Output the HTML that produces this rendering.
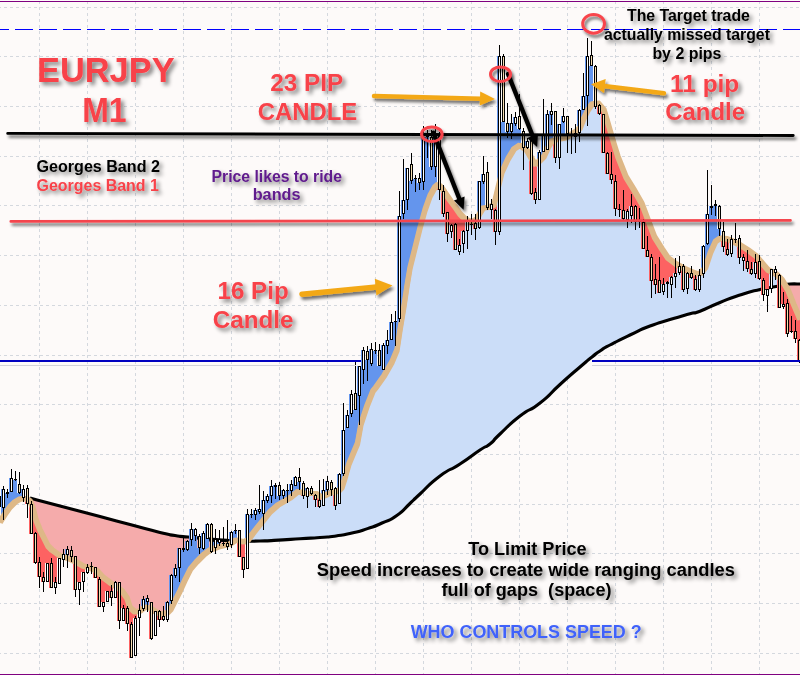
<!DOCTYPE html>
<html lang="en"><head><meta charset="utf-8"><title>EURJPY M1</title>
<style>
html,body{margin:0;padding:0;background:#fdfaf9;}
body{width:800px;height:675px;overflow:hidden;font-family:"Liberation Sans",Arial,sans-serif;}
svg{display:block;}
</style></head>
<body>
<svg width="800" height="675" viewBox="0 0 800 675">
<g stroke="#d4d8de" stroke-width="1" stroke-dasharray="3 3" fill="none" shape-rendering="crispEdges">
<path d="M0 7.5 H800" stroke-dashoffset="2"/>
<path d="M0 56.5 H800" stroke-dashoffset="2"/>
<path d="M0 106.5 H800" stroke-dashoffset="2"/>
<path d="M0 156.5 H800" stroke-dashoffset="2"/>
<path d="M0 205.5 H800" stroke-dashoffset="2"/>
<path d="M0 255.5 H800" stroke-dashoffset="2"/>
<path d="M0 305.5 H800" stroke-dashoffset="2"/>
<path d="M0 355.5 H800" stroke-dashoffset="2"/>
<path d="M0 404.5 H800" stroke-dashoffset="2"/>
<path d="M0 454.5 H800" stroke-dashoffset="2"/>
<path d="M0 504.5 H800" stroke-dashoffset="2"/>
<path d="M0 553.5 H800" stroke-dashoffset="2"/>
<path d="M0 603.5 H800" stroke-dashoffset="2"/>
<path d="M0 653.5 H800" stroke-dashoffset="2"/>
<path d="M39.5 0 V675" stroke-dashoffset="5"/>
<path d="M87.5 0 V675" stroke-dashoffset="5"/>
<path d="M135.5 0 V675" stroke-dashoffset="5"/>
<path d="M183.5 0 V675" stroke-dashoffset="5"/>
<path d="M231.5 0 V675" stroke-dashoffset="5"/>
<path d="M279.5 0 V675" stroke-dashoffset="5"/>
<path d="M327.5 0 V675" stroke-dashoffset="5"/>
<path d="M375.5 0 V675" stroke-dashoffset="5"/>
<path d="M423.5 0 V675" stroke-dashoffset="5"/>
<path d="M471.5 0 V675" stroke-dashoffset="5"/>
<path d="M519.5 0 V675" stroke-dashoffset="5"/>
<path d="M567.5 0 V675" stroke-dashoffset="5"/>
<path d="M615.5 0 V675" stroke-dashoffset="5"/>
<path d="M663.5 0 V675" stroke-dashoffset="5"/>
<path d="M711.5 0 V675" stroke-dashoffset="5"/>
<path d="M759.5 0 V675" stroke-dashoffset="5"/>
</g>
<defs>
<clipPath id="c1"><rect x="0" y="0" width="237" height="675"/></clipPath>
<clipPath id="c2"><rect x="237" y="0" width="548.5" height="675"/></clipPath>
<clipPath id="c3"><rect x="785.5" y="0" width="20" height="675"/></clipPath>
<filter id="sh" filterUnits="userSpaceOnUse" x="0" y="0" width="800" height="675"><feGaussianBlur in="SourceAlpha" stdDeviation="1.6"/><feOffset dx="2" dy="2.5"/><feComponentTransfer><feFuncA type="linear" slope="0.55"/></feComponentTransfer><feMerge><feMergeNode/><feMergeNode in="SourceGraphic"/></feMerge></filter>
<filter id="sh2" filterUnits="userSpaceOnUse" x="0" y="0" width="800" height="675"><feGaussianBlur in="SourceAlpha" stdDeviation="1.6"/><feOffset dx="2" dy="2.5"/><feComponentTransfer><feFuncA type="linear" slope="0.55"/></feComponentTransfer><feMerge><feMergeNode/><feMergeNode in="SourceGraphic"/></feMerge></filter>
<filter id="ts" filterUnits="userSpaceOnUse" x="0" y="0" width="800" height="675"><feGaussianBlur in="SourceAlpha" stdDeviation="2"/><feOffset dx="2.5" dy="3"/><feComponentTransfer><feFuncA type="linear" slope="0.5"/></feComponentTransfer><feMerge><feMergeNode/><feMergeNode in="SourceGraphic"/></feMerge></filter>
</defs>
<polygon points="30,501 33,508 36,520 40,530 44,538 48,546 52,550 60,555.7 70,559 77.8,562.8 83,566 90,568 97.3,571 102.6,577 109.7,582.3 116,586.5 122,591 127,598 130,607.5 135,612 140,611 145,607 150,608 156,612 162,614.5 167,613 171,609 175,601 180,591 185,580 190.5,569 196.5,562 204,554.5 210,550 218,547 230,544 236,540 244,542 248,540 254,532 262,522 270,512 278,505 290,498 298,491.5 306,493.5 316,493.5 320.8,497 325,495.5 329,493.3 335,492 339,490.5 342,487.4 345.7,475.5 349,463.7 354,451.8 357.5,443.5 361,424 367,406 373,391 375.5,388 384,376 392,362 397,350 400,330 404,306 407,286 410,268 414,252 420,228 425,210 430,196 435,187 438,184.5 441.5,187.5 446.5,195 451,201.5 455.5,207.5 460,214 463.5,217.5 468,220.5 473,221.5 477,219 480,213 483,208 488,207.5 494,205 498,188 502,172 508,159 514,149 520,145.2 527,150.5 533,161 535.5,164.3 539,161.5 544,156.5 548.6,146.5 552,141 557,139.4 566,137.7 573.5,133 578,130 580,128 584,118 588,110 592,104 598,103 604,110 607,120 610.5,132 614,144 618,157 626,177 634,190 642,204 648,220 654.5,237 662,249 668,258 676,264 684,268.5 692,272 697.5,274 701,273 705.5,267.5 710.5,252.5 715.5,241.5 720.5,238 726,238.5 732,241 740,245 748,250 756,256 762,263 768,270 776,274 782,280 788,290 794,305 800,319 800,284 790,284 784,285 776,286.6 760,289.4 740,295 720,302.5 700,311.2 690,313.8 670,319.6 650,326 630,335 610,345 600,351 592,357 580,367 560,384.5 540,403 520,416 500,434 490,444 480,450 460,464 440,476 420,494 410,503.5 396.8,515.5 382,523 367.5,528.6 352,533 336,536 320,537.5 300,538.8 274,540.4 260,541 240,541 216,539.5 188,537 175,535.5 160,532.4 130,524.5 100,516.5 60,506 30,498" fill="#f5abab" clip-path="url(#c1)"/>
<polygon points="30,501 33,508 36,520 40,530 44,538 48,546 52,550 60,555.7 70,559 77.8,562.8 83,566 90,568 97.3,571 102.6,577 109.7,582.3 116,586.5 122,591 127,598 130,607.5 135,612 140,611 145,607 150,608 156,612 162,614.5 167,613 171,609 175,601 180,591 185,580 190.5,569 196.5,562 204,554.5 210,550 218,547 230,544 236,540 244,542 248,540 254,532 262,522 270,512 278,505 290,498 298,491.5 306,493.5 316,493.5 320.8,497 325,495.5 329,493.3 335,492 339,490.5 342,487.4 345.7,475.5 349,463.7 354,451.8 357.5,443.5 361,424 367,406 373,391 375.5,388 384,376 392,362 397,350 400,330 404,306 407,286 410,268 414,252 420,228 425,210 430,196 435,187 438,184.5 441.5,187.5 446.5,195 451,201.5 455.5,207.5 460,214 463.5,217.5 468,220.5 473,221.5 477,219 480,213 483,208 488,207.5 494,205 498,188 502,172 508,159 514,149 520,145.2 527,150.5 533,161 535.5,164.3 539,161.5 544,156.5 548.6,146.5 552,141 557,139.4 566,137.7 573.5,133 578,130 580,128 584,118 588,110 592,104 598,103 604,110 607,120 610.5,132 614,144 618,157 626,177 634,190 642,204 648,220 654.5,237 662,249 668,258 676,264 684,268.5 692,272 697.5,274 701,273 705.5,267.5 710.5,252.5 715.5,241.5 720.5,238 726,238.5 732,241 740,245 748,250 756,256 762,263 768,270 776,274 782,280 788,290 794,305 800,319 800,284 790,284 784,285 776,286.6 760,289.4 740,295 720,302.5 700,311.2 690,313.8 670,319.6 650,326 630,335 610,345 600,351 592,357 580,367 560,384.5 540,403 520,416 500,434 490,444 480,450 460,464 440,476 420,494 410,503.5 396.8,515.5 382,523 367.5,528.6 352,533 336,536 320,537.5 300,538.8 274,540.4 260,541 240,541 216,539.5 188,537 175,535.5 160,532.4 130,524.5 100,516.5 60,506 30,498" fill="#cbddf8" clip-path="url(#c2)"/>
<polygon points="30,501 33,508 36,520 40,530 44,538 48,546 52,550 60,555.7 70,559 77.8,562.8 83,566 90,568 97.3,571 102.6,577 109.7,582.3 116,586.5 122,591 127,598 130,607.5 135,612 140,611 145,607 150,608 156,612 162,614.5 167,613 171,609 175,601 180,591 185,580 190.5,569 196.5,562 204,554.5 210,550 218,547 230,544 236,540 244,542 248,540 254,532 262,522 270,512 278,505 290,498 298,491.5 306,493.5 316,493.5 320.8,497 325,495.5 329,493.3 335,492 339,490.5 342,487.4 345.7,475.5 349,463.7 354,451.8 357.5,443.5 361,424 367,406 373,391 375.5,388 384,376 392,362 397,350 400,330 404,306 407,286 410,268 414,252 420,228 425,210 430,196 435,187 438,184.5 441.5,187.5 446.5,195 451,201.5 455.5,207.5 460,214 463.5,217.5 468,220.5 473,221.5 477,219 480,213 483,208 488,207.5 494,205 498,188 502,172 508,159 514,149 520,145.2 527,150.5 533,161 535.5,164.3 539,161.5 544,156.5 548.6,146.5 552,141 557,139.4 566,137.7 573.5,133 578,130 580,128 584,118 588,110 592,104 598,103 604,110 607,120 610.5,132 614,144 618,157 626,177 634,190 642,204 648,220 654.5,237 662,249 668,258 676,264 684,268.5 692,272 697.5,274 701,273 705.5,267.5 710.5,252.5 715.5,241.5 720.5,238 726,238.5 732,241 740,245 748,250 756,256 762,263 768,270 776,274 782,280 788,290 794,305 800,319 800,284 790,284 784,285 776,286.6 760,289.4 740,295 720,302.5 700,311.2 690,313.8 670,319.6 650,326 630,335 610,345 600,351 592,357 580,367 560,384.5 540,403 520,416 500,434 490,444 480,450 460,464 440,476 420,494 410,503.5 396.8,515.5 382,523 367.5,528.6 352,533 336,536 320,537.5 300,538.8 274,540.4 260,541 240,541 216,539.5 188,537 175,535.5 160,532.4 130,524.5 100,516.5 60,506 30,498" fill="#f5abab" clip-path="url(#c3)"/>
<path d="M30 498 C40 500.7 36.7 499.8 60 506 C83.3 512.2 76.7 510.3 100 516.5 C123.3 522.7 110 519.2 130 524.5 C150 529.8 145 528.7 160 532.4 C175 536.1 165.7 534 175 535.5 C184.3 537 174.3 535.7 188 537 C201.7 538.3 198.7 538.2 216 539.5 C233.3 540.8 225.3 540.5 240 541 C254.7 541.5 248.7 541.2 260 541 C271.3 540.8 260.7 541.1 274 540.4 C287.3 539.7 284.7 539.8 300 538.8 C315.3 537.8 308 538.4 320 537.5 C332 536.6 325.3 537.5 336 536 C346.7 534.5 341.5 535.5 352 533 C362.5 530.5 357.5 531.9 367.5 528.6 C377.5 525.3 372.2 527.4 382 523 C391.8 518.6 387.5 522 396.8 515.5 C406.1 509 402.3 510.7 410 503.5 C417.7 496.3 410 503.2 420 494 C430 484.8 426.7 486 440 476 C453.3 466 446.7 472.7 460 464 C473.3 455.3 470 456.7 480 450 C490 443.3 483.3 449.3 490 444 C496.7 438.7 490 443.3 500 434 C510 424.7 506.7 426.3 520 416 C533.3 405.7 526.7 413.5 540 403 C553.3 392.5 546.7 396.5 560 384.5 C573.3 372.5 569.3 376.2 580 367 C590.7 357.8 585.3 362.3 592 357 C598.7 351.7 594 355 600 351 C606 347 600 350.3 610 345 C620 339.7 616.7 341.3 630 335 C643.3 328.7 636.7 331.1 650 326 C663.3 320.9 656.7 323.7 670 319.6 C683.3 315.5 680 316.6 690 313.8 C700 311 690 315 700 311.2 C710 307.4 706.7 307.9 720 302.5 C733.3 297.1 726.7 299.4 740 295 C753.3 290.6 748 292.2 760 289.4 C772 286.6 768 288.1 776 286.6 C784 285.1 779.3 285.9 784 285 C788.7 284.1 784.7 284.3 790 284 C795.3 283.7 796.7 284 800 284" fill="none" stroke="#000" stroke-width="3.1" stroke-linejoin="round"/>
<g shape-rendering="crispEdges">
<rect x="1" y="489" width="4" height="27.6" fill="#6495ed"/>
<rect x="5" y="492.5" width="4" height="18.1" fill="#6495ed"/>
<rect x="9" y="478" width="4" height="27.6" fill="#6495ed"/>
<rect x="13" y="480" width="4" height="21.8" fill="#6495ed"/>
<rect x="17" y="493" width="4" height="6.4" fill="#6495ed"/>
<rect x="21" y="489" width="4" height="9.6" fill="#6495ed"/>
<rect x="25" y="499.3" width="4" height="4.7" fill="#fd6262"/>
<rect x="29" y="504.3" width="4" height="29.3" fill="#fd6262"/>
<rect x="33" y="517.6" width="4" height="45.4" fill="#fd6262"/>
<rect x="37" y="528.5" width="4" height="48.5" fill="#fd6262"/>
<rect x="41" y="536.8" width="4" height="45.6" fill="#fd6262"/>
<rect x="45" y="544.8" width="4" height="18.2" fill="#fd6262"/>
<rect x="49" y="549.4" width="4" height="38.2" fill="#fd6262"/>
<rect x="53" y="552.4" width="4" height="29.6" fill="#fd6262"/>
<rect x="57" y="555.3" width="4" height="3.1" fill="#fd6262"/>
<rect x="61" y="554" width="4" height="2.8" fill="#6495ed"/>
<rect x="65" y="549" width="4" height="9.1" fill="#6495ed"/>
<rect x="69" y="557" width="4" height="2.7" fill="#6495ed"/>
<rect x="73" y="561.6" width="4" height="28" fill="#fd6262"/>
<rect x="77" y="563.8" width="4" height="18.2" fill="#fd6262"/>
<rect x="81" y="566.1" width="4" height="5.9" fill="#fd6262"/>
<rect x="89" y="567" width="4" height="1.6" fill="#6495ed"/>
<rect x="93" y="570.2" width="4" height="8.2" fill="#fd6262"/>
<rect x="97" y="573.4" width="4" height="33.2" fill="#fd6262"/>
<rect x="101" y="577.6" width="4" height="24.4" fill="#fd6262"/>
<rect x="105" y="580.6" width="4" height="10.4" fill="#fd6262"/>
<rect x="109" y="583.4" width="4" height="14.6" fill="#fd6262"/>
<rect x="113" y="582" width="4" height="4.1" fill="#6495ed"/>
<rect x="117" y="589" width="4" height="32" fill="#fd6262"/>
<rect x="121" y="593" width="4" height="15" fill="#fd6262"/>
<rect x="125" y="599.3" width="4" height="24.2" fill="#fd6262"/>
<rect x="129" y="608.8" width="4" height="48.7" fill="#fd6262"/>
<rect x="133" y="611.9" width="4" height="6.1" fill="#fd6262"/>
<rect x="137" y="610" width="4" height="1.1" fill="#6495ed"/>
<rect x="141" y="599" width="4" height="9.3" fill="#6495ed"/>
<rect x="145" y="597.5" width="4" height="10" fill="#6495ed"/>
<rect x="149" y="608.9" width="4" height="29.9" fill="#fd6262"/>
<rect x="157" y="613.4" width="4" height="6.6" fill="#fd6262"/>
<rect x="161" y="614.1" width="4" height="5.9" fill="#fd6262"/>
<rect x="165" y="602" width="4" height="10.6" fill="#6495ed"/>
<rect x="169" y="575" width="4" height="33.2" fill="#6495ed"/>
<rect x="173" y="568" width="4" height="32.2" fill="#6495ed"/>
<rect x="177" y="548.4" width="4" height="43.8" fill="#6495ed"/>
<rect x="181" y="549.5" width="4" height="34" fill="#6495ed"/>
<rect x="185" y="541" width="4" height="34.2" fill="#6495ed"/>
<rect x="189" y="529" width="4" height="39" fill="#6495ed"/>
<rect x="193" y="529" width="4" height="34.3" fill="#6495ed"/>
<rect x="197" y="548" width="4" height="11.1" fill="#6495ed"/>
<rect x="201" y="533" width="4" height="22.1" fill="#6495ed"/>
<rect x="205" y="524" width="4" height="28" fill="#6495ed"/>
<rect x="209" y="549.5" width="4" height="2.5" fill="#fd6262"/>
<rect x="213" y="539" width="4" height="9" fill="#6495ed"/>
<rect x="217" y="539" width="4" height="7.6" fill="#6495ed"/>
<rect x="221" y="544.5" width="4" height="1.1" fill="#6495ed"/>
<rect x="225" y="544.6" width="4" height="2.4" fill="#fd6262"/>
<rect x="229" y="531.6" width="4" height="11.5" fill="#6495ed"/>
<rect x="233" y="530.5" width="4" height="9.9" fill="#6495ed"/>
<rect x="237" y="540.9" width="4" height="15.8" fill="#fd6262"/>
<rect x="241" y="541.9" width="4" height="27.8" fill="#fd6262"/>
<rect x="245" y="514" width="4" height="26.3" fill="#6495ed"/>
<rect x="249" y="515.4" width="4" height="20.1" fill="#6495ed"/>
<rect x="253" y="510" width="4" height="20.2" fill="#6495ed"/>
<rect x="257" y="509" width="4" height="16.2" fill="#6495ed"/>
<rect x="261" y="500" width="4" height="20.2" fill="#6495ed"/>
<rect x="265" y="495.6" width="4" height="19.6" fill="#6495ed"/>
<rect x="269" y="486" width="4" height="24.8" fill="#6495ed"/>
<rect x="273" y="485" width="4" height="22.3" fill="#6495ed"/>
<rect x="277" y="496.4" width="4" height="7.8" fill="#6495ed"/>
<rect x="281" y="490" width="4" height="11.9" fill="#6495ed"/>
<rect x="285" y="491" width="4" height="8.5" fill="#6495ed"/>
<rect x="289" y="484" width="4" height="12.9" fill="#6495ed"/>
<rect x="293" y="477" width="4" height="16.6" fill="#6495ed"/>
<rect x="297" y="482" width="4" height="9.9" fill="#6495ed"/>
<rect x="301" y="492.9" width="4" height="3.1" fill="#fd6262"/>
<rect x="305" y="488" width="4" height="5.5" fill="#6495ed"/>
<rect x="313" y="493.5" width="4" height="6.5" fill="#fd6262"/>
<rect x="317" y="496" width="4" height="10.6" fill="#fd6262"/>
<rect x="321" y="490" width="4" height="6.1" fill="#6495ed"/>
<rect x="325" y="481" width="4" height="13.2" fill="#6495ed"/>
<rect x="329" y="489.6" width="4" height="3.2" fill="#6495ed"/>
<rect x="333" y="491.9" width="4" height="13.8" fill="#fd6262"/>
<rect x="337" y="474" width="4" height="16.1" fill="#6495ed"/>
<rect x="341" y="429.6" width="4" height="53.3" fill="#6495ed"/>
<rect x="345" y="415" width="4" height="54.4" fill="#6495ed"/>
<rect x="349" y="394" width="4" height="64" fill="#6495ed"/>
<rect x="353" y="410" width="4" height="38.5" fill="#6495ed"/>
<rect x="357" y="366" width="4" height="66.9" fill="#6495ed"/>
<rect x="361" y="350.4" width="4" height="66.4" fill="#6495ed"/>
<rect x="365" y="360.4" width="4" height="44.6" fill="#6495ed"/>
<rect x="369" y="348.6" width="4" height="46.4" fill="#6495ed"/>
<rect x="373" y="350.6" width="4" height="37.5" fill="#6495ed"/>
<rect x="377" y="366" width="4" height="16.5" fill="#6495ed"/>
<rect x="381" y="345" width="4" height="31.8" fill="#6495ed"/>
<rect x="385" y="339.6" width="4" height="30.5" fill="#6495ed"/>
<rect x="389" y="321.6" width="4" height="41.5" fill="#6495ed"/>
<rect x="393" y="322" width="4" height="31.8" fill="#6495ed"/>
<rect x="397" y="215.6" width="4" height="118.4" fill="#6495ed"/>
<rect x="401" y="200" width="4" height="109.6" fill="#6495ed"/>
<rect x="405" y="168.4" width="4" height="115.2" fill="#6495ed"/>
<rect x="409" y="180.6" width="4" height="81.8" fill="#6495ed"/>
<rect x="413" y="179" width="4" height="67.4" fill="#6495ed"/>
<rect x="417" y="183" width="4" height="47.4" fill="#6495ed"/>
<rect x="421" y="137" width="4" height="78.8" fill="#6495ed"/>
<rect x="425" y="137" width="4" height="66.3" fill="#6495ed"/>
<rect x="429" y="167" width="4" height="26.5" fill="#6495ed"/>
<rect x="433" y="136" width="4" height="50.7" fill="#6495ed"/>
<rect x="437" y="185.7" width="4" height="3.9" fill="#fd6262"/>
<rect x="441" y="190.3" width="4" height="23.3" fill="#fd6262"/>
<rect x="445" y="196.3" width="4" height="37.7" fill="#fd6262"/>
<rect x="449" y="202" width="4" height="23" fill="#fd6262"/>
<rect x="453" y="207.4" width="4" height="42.2" fill="#fd6262"/>
<rect x="457" y="213.1" width="4" height="31.9" fill="#fd6262"/>
<rect x="461" y="217.4" width="4" height="13.6" fill="#fd6262"/>
<rect x="469" y="221.2" width="4" height="3.8" fill="#fd6262"/>
<rect x="473" y="220" width="4" height="9" fill="#fd6262"/>
<rect x="477" y="181" width="4" height="33.2" fill="#6495ed"/>
<rect x="481" y="173.6" width="4" height="34.4" fill="#6495ed"/>
<rect x="489" y="204" width="4" height="2.1" fill="#6495ed"/>
<rect x="493" y="199.1" width="4" height="32.5" fill="#fd6262"/>
<rect x="497" y="56" width="4" height="126.4" fill="#6495ed"/>
<rect x="501" y="122" width="4" height="47" fill="#6495ed"/>
<rect x="505" y="132" width="4" height="28.3" fill="#6495ed"/>
<rect x="509" y="123" width="4" height="30.3" fill="#6495ed"/>
<rect x="513" y="117" width="4" height="31.1" fill="#6495ed"/>
<rect x="517" y="129" width="4" height="16.6" fill="#6495ed"/>
<rect x="525" y="141" width="4" height="10.2" fill="#6495ed"/>
<rect x="529" y="158.2" width="4" height="35.4" fill="#fd6262"/>
<rect x="533" y="164.2" width="4" height="36.2" fill="#fd6262"/>
<rect x="537" y="152.4" width="4" height="8.7" fill="#6495ed"/>
<rect x="541" y="134" width="4" height="23.1" fill="#6495ed"/>
<rect x="545" y="114" width="4" height="35.1" fill="#6495ed"/>
<rect x="549" y="111" width="4" height="31" fill="#6495ed"/>
<rect x="553" y="139.9" width="4" height="18.1" fill="#fd6262"/>
<rect x="557" y="123.6" width="4" height="15.3" fill="#6495ed"/>
<rect x="561" y="115.6" width="4" height="22.6" fill="#6495ed"/>
<rect x="565" y="133.6" width="4" height="3.2" fill="#6495ed"/>
<rect x="569" y="134.3" width="4" height="1.7" fill="#fd6262"/>
<rect x="573" y="131.7" width="4" height="1.3" fill="#fd6262"/>
<rect x="577" y="110" width="4" height="18.6" fill="#6495ed"/>
<rect x="581" y="96.4" width="4" height="23.1" fill="#6495ed"/>
<rect x="585" y="56" width="4" height="55.2" fill="#6495ed"/>
<rect x="589" y="65.6" width="4" height="39.3" fill="#6495ed"/>
<rect x="593" y="103.4" width="4" height="3.2" fill="#fd6262"/>
<rect x="597" y="104.6" width="4" height="9.4" fill="#fd6262"/>
<rect x="601" y="109.3" width="4" height="43.7" fill="#fd6262"/>
<rect x="605" y="121.4" width="4" height="52.6" fill="#fd6262"/>
<rect x="609" y="135.1" width="4" height="44.9" fill="#fd6262"/>
<rect x="613" y="148.5" width="4" height="60.5" fill="#fd6262"/>
<rect x="617" y="160.5" width="4" height="49.5" fill="#fd6262"/>
<rect x="621" y="170.5" width="4" height="48.5" fill="#fd6262"/>
<rect x="625" y="179.3" width="4" height="31.7" fill="#fd6262"/>
<rect x="629" y="185.8" width="4" height="19.8" fill="#fd6262"/>
<rect x="633" y="192.4" width="4" height="30" fill="#fd6262"/>
<rect x="637" y="199.4" width="4" height="23" fill="#fd6262"/>
<rect x="641" y="207.7" width="4" height="41.7" fill="#fd6262"/>
<rect x="645" y="218.4" width="4" height="38.6" fill="#fd6262"/>
<rect x="649" y="228.9" width="4" height="52.1" fill="#fd6262"/>
<rect x="653" y="238.4" width="4" height="47" fill="#fd6262"/>
<rect x="657" y="244.8" width="4" height="47.8" fill="#fd6262"/>
<rect x="661" y="251.1" width="4" height="32.9" fill="#fd6262"/>
<rect x="665" y="257.1" width="4" height="24.9" fill="#fd6262"/>
<rect x="669" y="260.5" width="4" height="16.5" fill="#fd6262"/>
<rect x="673" y="263.5" width="4" height="9.5" fill="#fd6262"/>
<rect x="681" y="268.2" width="4" height="21.8" fill="#fd6262"/>
<rect x="685" y="270" width="4" height="3" fill="#fd6262"/>
<rect x="689" y="271.7" width="4" height="6.3" fill="#fd6262"/>
<rect x="693" y="273.2" width="4" height="16.8" fill="#fd6262"/>
<rect x="697" y="273.5" width="4" height="1.5" fill="#fd6262"/>
<rect x="701" y="245.6" width="4" height="24.5" fill="#6495ed"/>
<rect x="705" y="213.6" width="4" height="48.2" fill="#6495ed"/>
<rect x="709" y="205.6" width="4" height="44.9" fill="#6495ed"/>
<rect x="713" y="205.6" width="4" height="36.1" fill="#6495ed"/>
<rect x="717" y="229" width="4" height="9.8" fill="#6495ed"/>
<rect x="721" y="238.3" width="4" height="8.7" fill="#fd6262"/>
<rect x="725" y="239.1" width="4" height="15.9" fill="#fd6262"/>
<rect x="729" y="239" width="4" height="1.8" fill="#6495ed"/>
<rect x="733" y="240" width="4" height="2.7" fill="#6495ed"/>
<rect x="737" y="244.7" width="4" height="12.9" fill="#fd6262"/>
<rect x="741" y="247.1" width="4" height="9.9" fill="#fd6262"/>
<rect x="745" y="249.6" width="4" height="19.4" fill="#fd6262"/>
<rect x="749" y="252.5" width="4" height="21.5" fill="#fd6262"/>
<rect x="753" y="255.5" width="4" height="6.5" fill="#fd6262"/>
<rect x="757" y="260" width="4" height="19" fill="#fd6262"/>
<rect x="761" y="264.6" width="4" height="30.4" fill="#fd6262"/>
<rect x="765" y="269.3" width="4" height="20.1" fill="#fd6262"/>
<rect x="769" y="269.4" width="4" height="2.3" fill="#6495ed"/>
<rect x="773" y="269.4" width="4" height="4.3" fill="#6495ed"/>
<rect x="777" y="277.4" width="4" height="30.6" fill="#fd6262"/>
<rect x="781" y="282.3" width="4" height="21.7" fill="#fd6262"/>
<rect x="785" y="289" width="4" height="45" fill="#fd6262"/>
<rect x="789" y="298.5" width="4" height="33.5" fill="#fd6262"/>
<rect x="793" y="308.3" width="4" height="31.1" fill="#fd6262"/>
<rect x="797" y="317.6" width="4" height="44.4" fill="#fd6262"/>
</g>
<path d="M209.5 540.2 L229.5 540.6" stroke="#000" stroke-width="3" fill="none"/>
<g fill="none" stroke="#deb887" stroke-linejoin="round">
<polyline id="tn" points="0,522 5,514 10,507 15,502 20,499 24,498.5 27,499 30,501 33,508 36,520 40,530 44,538 48,546 52,550 60,555.7 70,559 77.8,562.8 83,566 90,568 97.3,571 102.6,577 109.7,582.3 116,586.5 122,591 127,598 130,607.5 135,612 140,611 145,607 150,608 156,612 162,614.5 167,613 171,609 175,601 180,591 185,580 190.5,569 196.5,562 204,554.5 210,550 218,547 230,544 236,540 244,542 248,540 254,532 262,522 270,512 278,505 290,498 298,491.5 306,493.5 316,493.5 320.8,497 325,495.5 329,493.3 335,492 339,490.5 342,487.4 345.7,475.5 349,463.7 354,451.8 357.5,443.5 361,424 367,406 373,391 375.5,388 384,376 392,362 397,350 400,330 404,306 407,286 410,268 414,252 420,228 425,210 430,196 435,187 438,184.5 441.5,187.5 446.5,195 451,201.5 455.5,207.5 460,214 463.5,217.5 468,220.5 473,221.5 477,219 480,213 483,208 488,207.5 494,205 498,188 502,172 508,159 514,149 520,145.2 527,150.5 533,161 535.5,164.3 539,161.5 544,156.5 548.6,146.5 552,141 557,139.4 566,137.7 573.5,133 578,130 580,128 584,118 588,110 592,104 598,103 604,110 607,120 610.5,132 614,144 618,157 626,177 634,190 642,204 648,220 654.5,237 662,249 668,258 676,264 684,268.5 692,272 697.5,274 701,273 705.5,267.5 710.5,252.5 715.5,241.5 720.5,238 726,238.5 732,241 740,245 748,250 756,256 762,263 768,270 776,274 782,280 788,290 794,305 800,319" stroke-width="2.6"/>
<use href="#tn" transform="translate(-1.25 -1.25)" stroke-width="1.2"/>
<use href="#tn" transform="translate(1.25 -1.25)" stroke-width="1.2"/>
<use href="#tn" transform="translate(-1.25 1.25)" stroke-width="1.2"/>
<use href="#tn" transform="translate(1.25 1.25)" stroke-width="1.2"/>
</g>
<g shape-rendering="crispEdges">
<rect x="3" y="486" width="1" height="34" fill="#000"/>
<rect x="2" y="489" width="3" height="19" fill="#000"/>
<rect x="3" y="490" width="1" height="17" fill="#fff"/>
<rect x="7" y="489" width="1" height="9" fill="#000"/>
<rect x="6" y="492" width="3" height="2" fill="#000"/>
<rect x="11" y="469" width="1" height="23" fill="#000"/>
<rect x="10" y="478" width="3" height="14" fill="#000"/>
<rect x="11" y="479" width="1" height="12" fill="#fff"/>
<rect x="15" y="471" width="1" height="10" fill="#000"/>
<rect x="14" y="479" width="3" height="1" fill="#000"/>
<rect x="19" y="472" width="1" height="22" fill="#000"/>
<rect x="18" y="484" width="3" height="9" fill="#000"/>
<rect x="19" y="485" width="1" height="7" fill="#f5deb3"/>
<rect x="23" y="485" width="1" height="17" fill="#000"/>
<rect x="22" y="489" width="3" height="9" fill="#000"/>
<rect x="23" y="490" width="1" height="7" fill="#fff"/>
<rect x="27" y="485" width="1" height="33" fill="#000"/>
<rect x="26" y="488" width="3" height="16" fill="#000"/>
<rect x="27" y="489" width="1" height="14" fill="#f5deb3"/>
<rect x="31" y="501" width="1" height="33" fill="#000"/>
<rect x="30" y="504" width="3" height="30" fill="#000"/>
<rect x="31" y="505" width="1" height="28" fill="#f5deb3"/>
<rect x="35" y="532" width="1" height="32" fill="#000"/>
<rect x="34" y="533" width="3" height="30" fill="#000"/>
<rect x="35" y="534" width="1" height="28" fill="#f5deb3"/>
<rect x="39" y="557" width="1" height="31" fill="#000"/>
<rect x="38" y="562" width="3" height="15" fill="#000"/>
<rect x="39" y="563" width="1" height="13" fill="#f5deb3"/>
<rect x="43" y="572" width="1" height="20" fill="#000"/>
<rect x="42" y="577" width="3" height="5" fill="#000"/>
<rect x="43" y="578" width="1" height="3" fill="#f5deb3"/>
<rect x="47" y="563" width="1" height="19" fill="#000"/>
<rect x="46" y="563" width="3" height="19" fill="#000"/>
<rect x="47" y="564" width="1" height="17" fill="#fff"/>
<rect x="51" y="558" width="1" height="30" fill="#000"/>
<rect x="50" y="563" width="3" height="25" fill="#000"/>
<rect x="51" y="564" width="1" height="23" fill="#f5deb3"/>
<rect x="55" y="577" width="1" height="17" fill="#000"/>
<rect x="54" y="582" width="3" height="6" fill="#000"/>
<rect x="55" y="583" width="1" height="4" fill="#fff"/>
<rect x="59" y="558" width="1" height="26" fill="#000"/>
<rect x="58" y="558" width="3" height="26" fill="#000"/>
<rect x="59" y="559" width="1" height="24" fill="#fff"/>
<rect x="63" y="549" width="1" height="18" fill="#000"/>
<rect x="62" y="554" width="3" height="6" fill="#000"/>
<rect x="63" y="555" width="1" height="4" fill="#fff"/>
<rect x="67" y="546" width="1" height="22" fill="#000"/>
<rect x="66" y="549" width="3" height="6" fill="#000"/>
<rect x="67" y="550" width="1" height="4" fill="#fff"/>
<rect x="71" y="546" width="1" height="16" fill="#000"/>
<rect x="70" y="550" width="3" height="7" fill="#000"/>
<rect x="71" y="551" width="1" height="5" fill="#f5deb3"/>
<rect x="75" y="556" width="1" height="41" fill="#000"/>
<rect x="74" y="556" width="3" height="34" fill="#000"/>
<rect x="75" y="557" width="1" height="32" fill="#f5deb3"/>
<rect x="79" y="582" width="1" height="23" fill="#000"/>
<rect x="78" y="582" width="3" height="8" fill="#000"/>
<rect x="79" y="583" width="1" height="6" fill="#fff"/>
<rect x="83" y="572" width="1" height="20" fill="#000"/>
<rect x="82" y="572" width="3" height="10" fill="#000"/>
<rect x="83" y="573" width="1" height="8" fill="#fff"/>
<rect x="87" y="564" width="1" height="10" fill="#000"/>
<rect x="86" y="567" width="3" height="6" fill="#000"/>
<rect x="87" y="568" width="1" height="4" fill="#fff"/>
<rect x="91" y="562" width="1" height="12" fill="#000"/>
<rect x="90" y="566" width="3" height="1" fill="#000"/>
<rect x="95" y="567" width="1" height="11" fill="#000"/>
<rect x="94" y="567" width="3" height="11" fill="#000"/>
<rect x="95" y="568" width="1" height="9" fill="#f5deb3"/>
<rect x="99" y="577" width="1" height="30" fill="#000"/>
<rect x="98" y="579" width="3" height="28" fill="#000"/>
<rect x="99" y="580" width="1" height="26" fill="#f5deb3"/>
<rect x="103" y="602" width="1" height="10" fill="#000"/>
<rect x="102" y="602" width="3" height="5" fill="#000"/>
<rect x="103" y="603" width="1" height="3" fill="#fff"/>
<rect x="107" y="591" width="1" height="11" fill="#000"/>
<rect x="106" y="591" width="3" height="11" fill="#000"/>
<rect x="107" y="592" width="1" height="9" fill="#fff"/>
<rect x="111" y="585" width="1" height="21" fill="#000"/>
<rect x="110" y="591" width="3" height="7" fill="#000"/>
<rect x="111" y="592" width="1" height="5" fill="#f5deb3"/>
<rect x="115" y="581" width="1" height="17" fill="#000"/>
<rect x="114" y="582" width="3" height="16" fill="#000"/>
<rect x="115" y="583" width="1" height="14" fill="#fff"/>
<rect x="119" y="582" width="1" height="47" fill="#000"/>
<rect x="118" y="582" width="3" height="39" fill="#000"/>
<rect x="119" y="583" width="1" height="37" fill="#f5deb3"/>
<rect x="123" y="605" width="1" height="16" fill="#000"/>
<rect x="122" y="608" width="3" height="13" fill="#000"/>
<rect x="123" y="609" width="1" height="11" fill="#fff"/>
<rect x="127" y="606" width="1" height="25" fill="#000"/>
<rect x="126" y="608" width="3" height="16" fill="#000"/>
<rect x="127" y="609" width="1" height="14" fill="#f5deb3"/>
<rect x="131" y="622" width="1" height="36" fill="#000"/>
<rect x="130" y="624" width="3" height="34" fill="#000"/>
<rect x="131" y="625" width="1" height="32" fill="#f5deb3"/>
<rect x="135" y="616" width="1" height="40" fill="#000"/>
<rect x="134" y="618" width="3" height="38" fill="#000"/>
<rect x="135" y="619" width="1" height="36" fill="#fff"/>
<rect x="139" y="604" width="1" height="32" fill="#000"/>
<rect x="138" y="610" width="3" height="8" fill="#000"/>
<rect x="139" y="611" width="1" height="6" fill="#fff"/>
<rect x="143" y="596" width="1" height="15" fill="#000"/>
<rect x="142" y="599" width="3" height="10" fill="#000"/>
<rect x="143" y="600" width="1" height="8" fill="#fff"/>
<rect x="147" y="595" width="1" height="17" fill="#000"/>
<rect x="146" y="598" width="3" height="4" fill="#000"/>
<rect x="147" y="599" width="1" height="2" fill="#fff"/>
<rect x="151" y="602" width="1" height="38" fill="#000"/>
<rect x="150" y="602" width="3" height="37" fill="#000"/>
<rect x="151" y="603" width="1" height="35" fill="#f5deb3"/>
<rect x="155" y="611" width="1" height="25" fill="#000"/>
<rect x="154" y="611" width="3" height="25" fill="#000"/>
<rect x="155" y="612" width="1" height="23" fill="#fff"/>
<rect x="159" y="610" width="1" height="17" fill="#000"/>
<rect x="158" y="611" width="3" height="9" fill="#000"/>
<rect x="159" y="612" width="1" height="7" fill="#f5deb3"/>
<rect x="163" y="606" width="1" height="15" fill="#000"/>
<rect x="162" y="616" width="3" height="4" fill="#000"/>
<rect x="163" y="617" width="1" height="2" fill="#f5deb3"/>
<rect x="167" y="601" width="1" height="21" fill="#000"/>
<rect x="166" y="602" width="3" height="18" fill="#000"/>
<rect x="167" y="603" width="1" height="16" fill="#fff"/>
<rect x="171" y="574" width="1" height="30" fill="#000"/>
<rect x="170" y="575" width="3" height="26" fill="#000"/>
<rect x="171" y="576" width="1" height="24" fill="#fff"/>
<rect x="175" y="564" width="1" height="14" fill="#000"/>
<rect x="174" y="568" width="3" height="8" fill="#000"/>
<rect x="175" y="569" width="1" height="6" fill="#fff"/>
<rect x="179" y="548" width="1" height="34" fill="#000"/>
<rect x="178" y="548" width="3" height="20" fill="#000"/>
<rect x="179" y="549" width="1" height="18" fill="#fff"/>
<rect x="183" y="537" width="1" height="15" fill="#000"/>
<rect x="182" y="548" width="3" height="2" fill="#000"/>
<rect x="187" y="540" width="1" height="11" fill="#000"/>
<rect x="186" y="541" width="3" height="9" fill="#000"/>
<rect x="187" y="542" width="1" height="7" fill="#fff"/>
<rect x="191" y="523" width="1" height="23" fill="#000"/>
<rect x="190" y="529" width="3" height="11" fill="#000"/>
<rect x="191" y="530" width="1" height="9" fill="#fff"/>
<rect x="195" y="528" width="1" height="13" fill="#000"/>
<rect x="194" y="529" width="3" height="7" fill="#000"/>
<rect x="195" y="530" width="1" height="5" fill="#fff"/>
<rect x="199" y="534" width="1" height="20" fill="#000"/>
<rect x="198" y="536" width="3" height="12" fill="#000"/>
<rect x="199" y="537" width="1" height="10" fill="#f5deb3"/>
<rect x="203" y="531" width="1" height="19" fill="#000"/>
<rect x="202" y="533" width="3" height="16" fill="#000"/>
<rect x="203" y="534" width="1" height="14" fill="#fff"/>
<rect x="207" y="523" width="1" height="16" fill="#000"/>
<rect x="206" y="524" width="3" height="15" fill="#000"/>
<rect x="207" y="525" width="1" height="13" fill="#fff"/>
<rect x="211" y="523" width="1" height="30" fill="#000"/>
<rect x="210" y="524" width="3" height="28" fill="#000"/>
<rect x="211" y="525" width="1" height="26" fill="#f5deb3"/>
<rect x="215" y="529" width="1" height="25" fill="#000"/>
<rect x="214" y="539" width="3" height="9" fill="#000"/>
<rect x="215" y="540" width="1" height="7" fill="#fff"/>
<rect x="219" y="530" width="1" height="16" fill="#000"/>
<rect x="218" y="539" width="3" height="4" fill="#000"/>
<rect x="219" y="540" width="1" height="2" fill="#fff"/>
<rect x="223" y="527" width="1" height="19" fill="#000"/>
<rect x="222" y="543" width="3" height="1" fill="#000"/>
<rect x="227" y="520" width="1" height="30" fill="#000"/>
<rect x="226" y="543" width="3" height="4" fill="#000"/>
<rect x="227" y="544" width="1" height="2" fill="#f5deb3"/>
<rect x="231" y="531" width="1" height="17" fill="#000"/>
<rect x="230" y="532" width="3" height="13" fill="#000"/>
<rect x="231" y="533" width="1" height="11" fill="#fff"/>
<rect x="235" y="524" width="1" height="10" fill="#000"/>
<rect x="234" y="530" width="3" height="1" fill="#000"/>
<rect x="239" y="530" width="1" height="27" fill="#000"/>
<rect x="238" y="530" width="3" height="27" fill="#000"/>
<rect x="239" y="531" width="1" height="25" fill="#f5deb3"/>
<rect x="243" y="557" width="1" height="21" fill="#000"/>
<rect x="242" y="557" width="3" height="13" fill="#000"/>
<rect x="243" y="558" width="1" height="11" fill="#f5deb3"/>
<rect x="247" y="509" width="1" height="60" fill="#000"/>
<rect x="246" y="514" width="3" height="55" fill="#000"/>
<rect x="247" y="515" width="1" height="53" fill="#fff"/>
<rect x="251" y="509" width="1" height="9" fill="#000"/>
<rect x="250" y="514" width="3" height="1" fill="#000"/>
<rect x="255" y="508" width="1" height="12" fill="#000"/>
<rect x="254" y="510" width="3" height="5" fill="#000"/>
<rect x="255" y="511" width="1" height="3" fill="#fff"/>
<rect x="259" y="485" width="1" height="29" fill="#000"/>
<rect x="258" y="509" width="3" height="3" fill="#000"/>
<rect x="259" y="510" width="1" height="1" fill="#fff"/>
<rect x="263" y="491" width="1" height="39" fill="#000"/>
<rect x="262" y="500" width="3" height="14" fill="#000"/>
<rect x="263" y="501" width="1" height="12" fill="#fff"/>
<rect x="267" y="494" width="1" height="9" fill="#000"/>
<rect x="266" y="496" width="3" height="5" fill="#000"/>
<rect x="267" y="497" width="1" height="3" fill="#fff"/>
<rect x="271" y="480" width="1" height="23" fill="#000"/>
<rect x="270" y="486" width="3" height="10" fill="#000"/>
<rect x="271" y="487" width="1" height="8" fill="#fff"/>
<rect x="275" y="483" width="1" height="16" fill="#000"/>
<rect x="274" y="485" width="3" height="2" fill="#000"/>
<rect x="279" y="482" width="1" height="18" fill="#000"/>
<rect x="278" y="485" width="3" height="11" fill="#000"/>
<rect x="279" y="486" width="1" height="9" fill="#f5deb3"/>
<rect x="283" y="489" width="1" height="10" fill="#000"/>
<rect x="282" y="490" width="3" height="6" fill="#000"/>
<rect x="283" y="491" width="1" height="4" fill="#fff"/>
<rect x="287" y="484" width="1" height="19" fill="#000"/>
<rect x="286" y="490" width="3" height="1" fill="#000"/>
<rect x="291" y="480" width="1" height="16" fill="#000"/>
<rect x="290" y="484" width="3" height="7" fill="#000"/>
<rect x="291" y="485" width="1" height="5" fill="#fff"/>
<rect x="295" y="476" width="1" height="10" fill="#000"/>
<rect x="294" y="477" width="3" height="9" fill="#000"/>
<rect x="295" y="478" width="1" height="7" fill="#fff"/>
<rect x="299" y="468" width="1" height="22" fill="#000"/>
<rect x="298" y="477" width="3" height="5" fill="#000"/>
<rect x="299" y="478" width="1" height="3" fill="#f5deb3"/>
<rect x="303" y="481" width="1" height="18" fill="#000"/>
<rect x="302" y="483" width="3" height="13" fill="#000"/>
<rect x="303" y="484" width="1" height="11" fill="#f5deb3"/>
<rect x="307" y="487" width="1" height="21" fill="#000"/>
<rect x="306" y="488" width="3" height="9" fill="#000"/>
<rect x="307" y="489" width="1" height="7" fill="#fff"/>
<rect x="311" y="486" width="1" height="9" fill="#000"/>
<rect x="310" y="488" width="3" height="6" fill="#000"/>
<rect x="311" y="489" width="1" height="4" fill="#f5deb3"/>
<rect x="315" y="494" width="1" height="13" fill="#000"/>
<rect x="314" y="495" width="3" height="5" fill="#000"/>
<rect x="315" y="496" width="1" height="3" fill="#f5deb3"/>
<rect x="319" y="480" width="1" height="28" fill="#000"/>
<rect x="318" y="500" width="3" height="7" fill="#000"/>
<rect x="319" y="501" width="1" height="5" fill="#f5deb3"/>
<rect x="323" y="479" width="1" height="27" fill="#000"/>
<rect x="322" y="490" width="3" height="16" fill="#000"/>
<rect x="323" y="491" width="1" height="14" fill="#fff"/>
<rect x="327" y="476" width="1" height="19" fill="#000"/>
<rect x="326" y="481" width="3" height="9" fill="#000"/>
<rect x="327" y="482" width="1" height="7" fill="#fff"/>
<rect x="331" y="480" width="1" height="16" fill="#000"/>
<rect x="330" y="482" width="3" height="8" fill="#000"/>
<rect x="331" y="483" width="1" height="6" fill="#f5deb3"/>
<rect x="335" y="487" width="1" height="23" fill="#000"/>
<rect x="334" y="488" width="3" height="18" fill="#000"/>
<rect x="335" y="489" width="1" height="16" fill="#f5deb3"/>
<rect x="339" y="473" width="1" height="31" fill="#000"/>
<rect x="338" y="474" width="3" height="30" fill="#000"/>
<rect x="339" y="475" width="1" height="28" fill="#fff"/>
<rect x="343" y="403" width="1" height="73" fill="#000"/>
<rect x="342" y="430" width="3" height="44" fill="#000"/>
<rect x="343" y="431" width="1" height="42" fill="#fff"/>
<rect x="347" y="410" width="1" height="18" fill="#000"/>
<rect x="346" y="415" width="3" height="13" fill="#000"/>
<rect x="347" y="416" width="1" height="11" fill="#fff"/>
<rect x="351" y="390" width="1" height="27" fill="#000"/>
<rect x="350" y="394" width="3" height="20" fill="#000"/>
<rect x="351" y="395" width="1" height="18" fill="#fff"/>
<rect x="355" y="361" width="1" height="49" fill="#000"/>
<rect x="354" y="393" width="3" height="17" fill="#000"/>
<rect x="355" y="394" width="1" height="15" fill="#f5deb3"/>
<rect x="359" y="366" width="1" height="59" fill="#000"/>
<rect x="358" y="366" width="3" height="30" fill="#000"/>
<rect x="359" y="367" width="1" height="28" fill="#fff"/>
<rect x="363" y="347" width="1" height="37" fill="#000"/>
<rect x="362" y="350" width="3" height="20" fill="#000"/>
<rect x="363" y="351" width="1" height="18" fill="#fff"/>
<rect x="367" y="346" width="1" height="35" fill="#000"/>
<rect x="366" y="351" width="3" height="9" fill="#000"/>
<rect x="367" y="352" width="1" height="7" fill="#f5deb3"/>
<rect x="371" y="343" width="1" height="23" fill="#000"/>
<rect x="370" y="349" width="3" height="15" fill="#000"/>
<rect x="371" y="350" width="1" height="13" fill="#fff"/>
<rect x="375" y="342" width="1" height="12" fill="#000"/>
<rect x="374" y="350" width="3" height="1" fill="#000"/>
<rect x="379" y="344" width="1" height="22" fill="#000"/>
<rect x="378" y="350" width="3" height="16" fill="#000"/>
<rect x="379" y="351" width="1" height="14" fill="#f5deb3"/>
<rect x="383" y="343" width="1" height="27" fill="#000"/>
<rect x="382" y="345" width="3" height="25" fill="#000"/>
<rect x="383" y="346" width="1" height="23" fill="#fff"/>
<rect x="387" y="330" width="1" height="24" fill="#000"/>
<rect x="386" y="340" width="3" height="6" fill="#000"/>
<rect x="387" y="341" width="1" height="4" fill="#fff"/>
<rect x="391" y="314" width="1" height="26" fill="#000"/>
<rect x="390" y="322" width="3" height="18" fill="#000"/>
<rect x="391" y="323" width="1" height="16" fill="#fff"/>
<rect x="395" y="311" width="1" height="35" fill="#000"/>
<rect x="394" y="321" width="3" height="1" fill="#000"/>
<rect x="399" y="191" width="1" height="131" fill="#000"/>
<rect x="398" y="216" width="3" height="103" fill="#000"/>
<rect x="399" y="217" width="1" height="101" fill="#fff"/>
<rect x="403" y="159" width="1" height="60" fill="#000"/>
<rect x="402" y="200" width="3" height="14" fill="#000"/>
<rect x="403" y="201" width="1" height="12" fill="#fff"/>
<rect x="407" y="168" width="1" height="42" fill="#000"/>
<rect x="406" y="168" width="3" height="32" fill="#000"/>
<rect x="407" y="169" width="1" height="30" fill="#fff"/>
<rect x="411" y="153" width="1" height="31" fill="#000"/>
<rect x="410" y="164" width="3" height="17" fill="#000"/>
<rect x="411" y="165" width="1" height="15" fill="#f5deb3"/>
<rect x="415" y="175" width="1" height="17" fill="#000"/>
<rect x="414" y="178" width="3" height="1" fill="#000"/>
<rect x="419" y="173" width="1" height="17" fill="#000"/>
<rect x="418" y="178" width="3" height="5" fill="#000"/>
<rect x="419" y="179" width="1" height="3" fill="#f5deb3"/>
<rect x="423" y="126" width="1" height="64" fill="#000"/>
<rect x="422" y="137" width="3" height="45" fill="#000"/>
<rect x="423" y="138" width="1" height="43" fill="#fff"/>
<rect x="427" y="130" width="1" height="28" fill="#000"/>
<rect x="426" y="136" width="3" height="1" fill="#000"/>
<rect x="431" y="130" width="1" height="40" fill="#000"/>
<rect x="430" y="137" width="3" height="30" fill="#000"/>
<rect x="431" y="138" width="1" height="28" fill="#f5deb3"/>
<rect x="435" y="124" width="1" height="53" fill="#000"/>
<rect x="434" y="136" width="3" height="31" fill="#000"/>
<rect x="435" y="137" width="1" height="29" fill="#fff"/>
<rect x="439" y="132" width="1" height="68" fill="#000"/>
<rect x="438" y="136" width="3" height="54" fill="#000"/>
<rect x="439" y="137" width="1" height="52" fill="#f5deb3"/>
<rect x="443" y="185" width="1" height="32" fill="#000"/>
<rect x="442" y="191" width="3" height="23" fill="#000"/>
<rect x="443" y="192" width="1" height="21" fill="#f5deb3"/>
<rect x="447" y="212" width="1" height="30" fill="#000"/>
<rect x="446" y="212" width="3" height="22" fill="#000"/>
<rect x="447" y="213" width="1" height="20" fill="#f5deb3"/>
<rect x="451" y="224" width="1" height="14" fill="#000"/>
<rect x="450" y="225" width="3" height="7" fill="#000"/>
<rect x="451" y="226" width="1" height="5" fill="#fff"/>
<rect x="455" y="223" width="1" height="27" fill="#000"/>
<rect x="454" y="224" width="3" height="26" fill="#000"/>
<rect x="455" y="225" width="1" height="24" fill="#f5deb3"/>
<rect x="459" y="239" width="1" height="16" fill="#000"/>
<rect x="458" y="245" width="3" height="7" fill="#000"/>
<rect x="459" y="246" width="1" height="5" fill="#fff"/>
<rect x="463" y="230" width="1" height="23" fill="#000"/>
<rect x="462" y="231" width="3" height="13" fill="#000"/>
<rect x="463" y="232" width="1" height="11" fill="#fff"/>
<rect x="467" y="216" width="1" height="33" fill="#000"/>
<rect x="466" y="220" width="3" height="11" fill="#000"/>
<rect x="467" y="221" width="1" height="9" fill="#fff"/>
<rect x="471" y="214" width="1" height="21" fill="#000"/>
<rect x="470" y="224" width="3" height="1" fill="#000"/>
<rect x="475" y="214" width="1" height="26" fill="#000"/>
<rect x="474" y="223" width="3" height="6" fill="#000"/>
<rect x="475" y="224" width="1" height="4" fill="#f5deb3"/>
<rect x="479" y="181" width="1" height="48" fill="#000"/>
<rect x="478" y="181" width="3" height="47" fill="#000"/>
<rect x="479" y="182" width="1" height="45" fill="#fff"/>
<rect x="483" y="156" width="1" height="28" fill="#000"/>
<rect x="482" y="174" width="3" height="8" fill="#000"/>
<rect x="483" y="175" width="1" height="6" fill="#fff"/>
<rect x="487" y="162" width="1" height="48" fill="#000"/>
<rect x="486" y="172" width="3" height="36" fill="#000"/>
<rect x="487" y="173" width="1" height="34" fill="#f5deb3"/>
<rect x="491" y="199" width="1" height="20" fill="#000"/>
<rect x="490" y="204" width="3" height="6" fill="#000"/>
<rect x="491" y="205" width="1" height="4" fill="#fff"/>
<rect x="495" y="209" width="1" height="36" fill="#000"/>
<rect x="494" y="210" width="3" height="22" fill="#000"/>
<rect x="495" y="211" width="1" height="20" fill="#f5deb3"/>
<rect x="499" y="45" width="1" height="190" fill="#000"/>
<rect x="498" y="56" width="3" height="176" fill="#000"/>
<rect x="499" y="57" width="1" height="174" fill="#fff"/>
<rect x="503" y="54" width="1" height="68" fill="#000"/>
<rect x="502" y="56" width="3" height="66" fill="#000"/>
<rect x="503" y="57" width="1" height="64" fill="#f5deb3"/>
<rect x="507" y="103" width="1" height="35" fill="#000"/>
<rect x="506" y="123" width="3" height="9" fill="#000"/>
<rect x="507" y="124" width="1" height="7" fill="#f5deb3"/>
<rect x="511" y="114" width="1" height="25" fill="#000"/>
<rect x="510" y="123" width="3" height="9" fill="#000"/>
<rect x="511" y="124" width="1" height="7" fill="#fff"/>
<rect x="515" y="112" width="1" height="14" fill="#000"/>
<rect x="514" y="117" width="3" height="7" fill="#000"/>
<rect x="515" y="118" width="1" height="5" fill="#fff"/>
<rect x="519" y="94" width="1" height="36" fill="#000"/>
<rect x="518" y="116" width="3" height="13" fill="#000"/>
<rect x="519" y="117" width="1" height="11" fill="#f5deb3"/>
<rect x="523" y="128" width="1" height="42" fill="#000"/>
<rect x="522" y="131" width="3" height="17" fill="#000"/>
<rect x="523" y="132" width="1" height="15" fill="#f5deb3"/>
<rect x="527" y="138" width="1" height="11" fill="#000"/>
<rect x="526" y="141" width="3" height="7" fill="#000"/>
<rect x="527" y="142" width="1" height="5" fill="#fff"/>
<rect x="531" y="139" width="1" height="56" fill="#000"/>
<rect x="530" y="140" width="3" height="54" fill="#000"/>
<rect x="531" y="141" width="1" height="52" fill="#f5deb3"/>
<rect x="535" y="188" width="1" height="16" fill="#000"/>
<rect x="534" y="192" width="3" height="8" fill="#000"/>
<rect x="535" y="193" width="1" height="6" fill="#f5deb3"/>
<rect x="539" y="150" width="1" height="50" fill="#000"/>
<rect x="538" y="152" width="3" height="48" fill="#000"/>
<rect x="539" y="153" width="1" height="46" fill="#fff"/>
<rect x="543" y="99" width="1" height="53" fill="#000"/>
<rect x="542" y="134" width="3" height="18" fill="#000"/>
<rect x="543" y="135" width="1" height="16" fill="#fff"/>
<rect x="547" y="110" width="1" height="40" fill="#000"/>
<rect x="546" y="114" width="3" height="36" fill="#000"/>
<rect x="547" y="115" width="1" height="34" fill="#fff"/>
<rect x="551" y="103" width="1" height="22" fill="#000"/>
<rect x="550" y="111" width="3" height="4" fill="#000"/>
<rect x="551" y="112" width="1" height="2" fill="#fff"/>
<rect x="555" y="111" width="1" height="52" fill="#000"/>
<rect x="554" y="111" width="3" height="47" fill="#000"/>
<rect x="555" y="112" width="1" height="45" fill="#f5deb3"/>
<rect x="559" y="124" width="1" height="45" fill="#000"/>
<rect x="558" y="124" width="3" height="34" fill="#000"/>
<rect x="559" y="125" width="1" height="32" fill="#fff"/>
<rect x="563" y="108" width="1" height="15" fill="#000"/>
<rect x="562" y="116" width="3" height="6" fill="#000"/>
<rect x="563" y="117" width="1" height="4" fill="#fff"/>
<rect x="567" y="116" width="1" height="37" fill="#000"/>
<rect x="566" y="116" width="3" height="18" fill="#000"/>
<rect x="567" y="117" width="1" height="16" fill="#f5deb3"/>
<rect x="571" y="128" width="1" height="26" fill="#000"/>
<rect x="570" y="135" width="3" height="1" fill="#000"/>
<rect x="575" y="124" width="1" height="29" fill="#000"/>
<rect x="574" y="133" width="3" height="4" fill="#000"/>
<rect x="575" y="134" width="1" height="2" fill="#fff"/>
<rect x="579" y="109" width="1" height="33" fill="#000"/>
<rect x="578" y="110" width="3" height="23" fill="#000"/>
<rect x="579" y="111" width="1" height="21" fill="#fff"/>
<rect x="583" y="73" width="1" height="37" fill="#000"/>
<rect x="582" y="96" width="3" height="14" fill="#000"/>
<rect x="583" y="97" width="1" height="12" fill="#fff"/>
<rect x="587" y="38" width="1" height="88" fill="#000"/>
<rect x="586" y="56" width="3" height="40" fill="#000"/>
<rect x="587" y="57" width="1" height="38" fill="#fff"/>
<rect x="591" y="41" width="1" height="25" fill="#000"/>
<rect x="590" y="55" width="3" height="11" fill="#000"/>
<rect x="591" y="56" width="1" height="9" fill="#f5deb3"/>
<rect x="595" y="65" width="1" height="44" fill="#000"/>
<rect x="594" y="66" width="3" height="41" fill="#000"/>
<rect x="595" y="67" width="1" height="39" fill="#f5deb3"/>
<rect x="599" y="104" width="1" height="11" fill="#000"/>
<rect x="598" y="105" width="3" height="9" fill="#000"/>
<rect x="599" y="106" width="1" height="7" fill="#f5deb3"/>
<rect x="603" y="114" width="1" height="39" fill="#000"/>
<rect x="602" y="114" width="3" height="39" fill="#000"/>
<rect x="603" y="115" width="1" height="37" fill="#f5deb3"/>
<rect x="607" y="152" width="1" height="22" fill="#000"/>
<rect x="606" y="153" width="3" height="21" fill="#000"/>
<rect x="607" y="154" width="1" height="19" fill="#f5deb3"/>
<rect x="611" y="152" width="1" height="32" fill="#000"/>
<rect x="610" y="174" width="3" height="6" fill="#000"/>
<rect x="611" y="175" width="1" height="4" fill="#f5deb3"/>
<rect x="615" y="175" width="1" height="41" fill="#000"/>
<rect x="614" y="181" width="3" height="28" fill="#000"/>
<rect x="615" y="182" width="1" height="26" fill="#f5deb3"/>
<rect x="619" y="204" width="1" height="13" fill="#000"/>
<rect x="618" y="209" width="3" height="1" fill="#000"/>
<rect x="623" y="190" width="1" height="30" fill="#000"/>
<rect x="622" y="210" width="3" height="9" fill="#000"/>
<rect x="623" y="211" width="1" height="7" fill="#f5deb3"/>
<rect x="627" y="209" width="1" height="19" fill="#000"/>
<rect x="626" y="211" width="3" height="9" fill="#000"/>
<rect x="627" y="212" width="1" height="7" fill="#fff"/>
<rect x="631" y="194" width="1" height="29" fill="#000"/>
<rect x="630" y="206" width="3" height="10" fill="#000"/>
<rect x="631" y="207" width="1" height="8" fill="#fff"/>
<rect x="635" y="205" width="1" height="25" fill="#000"/>
<rect x="634" y="206" width="3" height="16" fill="#000"/>
<rect x="635" y="207" width="1" height="14" fill="#f5deb3"/>
<rect x="639" y="208" width="1" height="20" fill="#000"/>
<rect x="638" y="221" width="3" height="1" fill="#000"/>
<rect x="643" y="219" width="1" height="30" fill="#000"/>
<rect x="642" y="222" width="3" height="27" fill="#000"/>
<rect x="643" y="223" width="1" height="25" fill="#f5deb3"/>
<rect x="647" y="236" width="1" height="21" fill="#000"/>
<rect x="646" y="250" width="3" height="7" fill="#000"/>
<rect x="647" y="251" width="1" height="5" fill="#f5deb3"/>
<rect x="651" y="254" width="1" height="44" fill="#000"/>
<rect x="650" y="257" width="3" height="24" fill="#000"/>
<rect x="651" y="258" width="1" height="22" fill="#f5deb3"/>
<rect x="655" y="264" width="1" height="30" fill="#000"/>
<rect x="654" y="279" width="3" height="6" fill="#000"/>
<rect x="655" y="280" width="1" height="4" fill="#f5deb3"/>
<rect x="659" y="257" width="1" height="36" fill="#000"/>
<rect x="658" y="280" width="3" height="13" fill="#000"/>
<rect x="659" y="281" width="1" height="11" fill="#f5deb3"/>
<rect x="663" y="278" width="1" height="17" fill="#000"/>
<rect x="662" y="284" width="3" height="8" fill="#000"/>
<rect x="663" y="285" width="1" height="6" fill="#fff"/>
<rect x="667" y="281" width="1" height="17" fill="#000"/>
<rect x="666" y="282" width="3" height="2" fill="#000"/>
<rect x="671" y="276" width="1" height="22" fill="#000"/>
<rect x="670" y="277" width="3" height="8" fill="#000"/>
<rect x="671" y="278" width="1" height="6" fill="#fff"/>
<rect x="675" y="258" width="1" height="30" fill="#000"/>
<rect x="674" y="273" width="3" height="4" fill="#000"/>
<rect x="675" y="274" width="1" height="2" fill="#fff"/>
<rect x="679" y="256" width="1" height="19" fill="#000"/>
<rect x="678" y="266" width="3" height="7" fill="#000"/>
<rect x="679" y="267" width="1" height="5" fill="#fff"/>
<rect x="683" y="264" width="1" height="28" fill="#000"/>
<rect x="682" y="266" width="3" height="24" fill="#000"/>
<rect x="683" y="267" width="1" height="22" fill="#f5deb3"/>
<rect x="687" y="272" width="1" height="22" fill="#000"/>
<rect x="686" y="273" width="3" height="16" fill="#000"/>
<rect x="687" y="274" width="1" height="14" fill="#fff"/>
<rect x="691" y="266" width="1" height="13" fill="#000"/>
<rect x="690" y="273" width="3" height="5" fill="#000"/>
<rect x="691" y="274" width="1" height="3" fill="#f5deb3"/>
<rect x="695" y="275" width="1" height="16" fill="#000"/>
<rect x="694" y="279" width="3" height="11" fill="#000"/>
<rect x="695" y="280" width="1" height="9" fill="#f5deb3"/>
<rect x="699" y="269" width="1" height="23" fill="#000"/>
<rect x="698" y="275" width="3" height="15" fill="#000"/>
<rect x="699" y="276" width="1" height="13" fill="#fff"/>
<rect x="703" y="245" width="1" height="33" fill="#000"/>
<rect x="702" y="246" width="3" height="28" fill="#000"/>
<rect x="703" y="247" width="1" height="26" fill="#fff"/>
<rect x="707" y="170" width="1" height="75" fill="#000"/>
<rect x="706" y="214" width="3" height="30" fill="#000"/>
<rect x="707" y="215" width="1" height="28" fill="#fff"/>
<rect x="711" y="185" width="1" height="30" fill="#000"/>
<rect x="710" y="206" width="3" height="2" fill="#000"/>
<rect x="715" y="200" width="1" height="16" fill="#000"/>
<rect x="714" y="204" width="3" height="2" fill="#000"/>
<rect x="719" y="205" width="1" height="31" fill="#000"/>
<rect x="718" y="206" width="3" height="23" fill="#000"/>
<rect x="719" y="207" width="1" height="21" fill="#f5deb3"/>
<rect x="723" y="222" width="1" height="30" fill="#000"/>
<rect x="722" y="231" width="3" height="16" fill="#000"/>
<rect x="723" y="232" width="1" height="14" fill="#f5deb3"/>
<rect x="727" y="239" width="1" height="17" fill="#000"/>
<rect x="726" y="249" width="3" height="6" fill="#000"/>
<rect x="727" y="250" width="1" height="4" fill="#f5deb3"/>
<rect x="731" y="235" width="1" height="22" fill="#000"/>
<rect x="730" y="239" width="3" height="15" fill="#000"/>
<rect x="731" y="240" width="1" height="13" fill="#fff"/>
<rect x="735" y="223" width="1" height="20" fill="#000"/>
<rect x="734" y="239" width="3" height="1" fill="#000"/>
<rect x="739" y="235" width="1" height="29" fill="#000"/>
<rect x="738" y="238" width="3" height="20" fill="#000"/>
<rect x="739" y="239" width="1" height="18" fill="#f5deb3"/>
<rect x="743" y="254" width="1" height="17" fill="#000"/>
<rect x="742" y="257" width="3" height="4" fill="#000"/>
<rect x="743" y="258" width="1" height="2" fill="#fff"/>
<rect x="747" y="250" width="1" height="22" fill="#000"/>
<rect x="746" y="261" width="3" height="8" fill="#000"/>
<rect x="747" y="262" width="1" height="6" fill="#f5deb3"/>
<rect x="751" y="262" width="1" height="13" fill="#000"/>
<rect x="750" y="269" width="3" height="5" fill="#000"/>
<rect x="751" y="270" width="1" height="3" fill="#f5deb3"/>
<rect x="755" y="254" width="1" height="24" fill="#000"/>
<rect x="754" y="262" width="3" height="12" fill="#000"/>
<rect x="755" y="263" width="1" height="10" fill="#fff"/>
<rect x="759" y="255" width="1" height="25" fill="#000"/>
<rect x="758" y="261" width="3" height="18" fill="#000"/>
<rect x="759" y="262" width="1" height="16" fill="#f5deb3"/>
<rect x="763" y="278" width="1" height="23" fill="#000"/>
<rect x="762" y="280" width="3" height="15" fill="#000"/>
<rect x="763" y="281" width="1" height="13" fill="#f5deb3"/>
<rect x="767" y="289" width="1" height="23" fill="#000"/>
<rect x="766" y="289" width="3" height="7" fill="#000"/>
<rect x="767" y="290" width="1" height="5" fill="#fff"/>
<rect x="771" y="269" width="1" height="24" fill="#000"/>
<rect x="770" y="269" width="3" height="20" fill="#000"/>
<rect x="771" y="270" width="1" height="18" fill="#fff"/>
<rect x="775" y="266" width="1" height="14" fill="#000"/>
<rect x="774" y="269" width="3" height="4" fill="#000"/>
<rect x="775" y="270" width="1" height="2" fill="#fff"/>
<rect x="779" y="274" width="1" height="34" fill="#000"/>
<rect x="778" y="275" width="3" height="33" fill="#000"/>
<rect x="779" y="276" width="1" height="31" fill="#f5deb3"/>
<rect x="783" y="292" width="1" height="17" fill="#000"/>
<rect x="782" y="304" width="3" height="3" fill="#000"/>
<rect x="783" y="305" width="1" height="1" fill="#fff"/>
<rect x="787" y="299" width="1" height="38" fill="#000"/>
<rect x="786" y="303" width="3" height="31" fill="#000"/>
<rect x="787" y="304" width="1" height="29" fill="#f5deb3"/>
<rect x="791" y="316" width="1" height="17" fill="#000"/>
<rect x="790" y="331" width="3" height="1" fill="#000"/>
<rect x="795" y="320" width="1" height="23" fill="#000"/>
<rect x="794" y="331" width="3" height="8" fill="#000"/>
<rect x="795" y="332" width="1" height="6" fill="#f5deb3"/>
<rect x="799" y="339" width="1" height="24" fill="#000"/>
<rect x="798" y="340" width="3" height="22" fill="#000"/>
<rect x="799" y="341" width="1" height="20" fill="#f5deb3"/>
<rect x="0" y="496" width="1" height="11" fill="#000"/>
</g>
<g shape-rendering="crispEdges">
<rect x="0" y="1" width="800" height="1" fill="#800080"/>
<rect x="0" y="674" width="800" height="1" fill="#800080"/>
<rect x="0" y="365" width="356" height="1" fill="#d3d3da"/>
<rect x="0" y="360" width="361" height="2" fill="#0000c0"/>
<rect x="592" y="360" width="208" height="2" fill="#0000c0"/>
<rect x="592" y="365" width="208" height="1" fill="#d3d3da"/>
</g>
<path d="M0 29.5 H800" stroke="#0000ff" stroke-width="1" stroke-dasharray="18 6" stroke-dashoffset="9" fill="none"/>
<g filter="url(#sh)">
<path d="M7.7 133.4 L793.2 135.5" stroke="#000" stroke-width="2.9" stroke-linecap="round" fill="none"/>
</g>
<g filter="url(#sh)">
<path d="M10.8 221.4 L790.5 220.4" stroke="#f4454d" stroke-width="2.7" stroke-linecap="round" fill="none"/>
</g>
<g filter="url(#sh2)"><path d="M374 96 L481 98.7" stroke="#f3a818" stroke-width="4.5" stroke-linecap="round" fill="none"/><polygon points="495,99 479.8,105.6 480.2,91.6" fill="#f3a818"/></g>
<g filter="url(#sh2)"><path d="M302 294.3 L376.6 287" stroke="#f3a818" stroke-width="5.5" stroke-linecap="round" fill="none"/><polygon points="392.5,285.5 376.4,295.6 374.8,278.7" fill="#f3a818"/></g>
<g filter="url(#sh2)"><path d="M664 93.2 L603.9 85.9" stroke="#f3a818" stroke-width="4.5" stroke-linecap="round" fill="none"/><polygon points="591,84.3 605.7,79 604,92.9" fill="#f3a818"/></g>
<g filter="url(#sh2)"><path d="M433.3 132.8 L459.6 199.5" stroke="#000" stroke-width="4.4" stroke-linecap="round" fill="none"/><polygon points="463.6,209.7 453.9,200.6 464.6,196.4" fill="#000"/></g>
<g filter="url(#sh2)"><path d="M508 74 L533 136.8" stroke="#000" stroke-width="4.4" stroke-linecap="round" fill="none"/><polygon points="537.1,147 527.3,138 538,133.7" fill="#000"/></g>
<g filter="url(#sh2)"><ellipse cx="431.8" cy="134.2" rx="10.3" ry="7.3" fill="none" stroke="#f8444c" stroke-width="3"/></g>
<g filter="url(#sh2)"><ellipse cx="500.5" cy="74.2" rx="10" ry="7.3" fill="none" stroke="#f8444c" stroke-width="3"/></g>
<g filter="url(#sh2)"><ellipse cx="593.6" cy="23.8" rx="10.9" ry="9.4" fill="none" stroke="#f8444c" stroke-width="3"/></g>
<g font-family="'Liberation Sans', Arial, sans-serif" font-weight="bold" filter="url(#ts)">
<text x="37" y="82" font-size="34.6" fill="#f8434a" textLength="137.6" lengthAdjust="spacingAndGlyphs">EURJPY</text>
<text x="82.2" y="122.4" font-size="34.6" fill="#f8434a" textLength="44.4" lengthAdjust="spacingAndGlyphs">M1</text>
<text x="36.5" y="171.5" font-size="16" fill="#000" textLength="123.4" lengthAdjust="spacingAndGlyphs">Georges Band 2</text>
<text x="36.5" y="190.5" font-size="16" fill="#f8434a" textLength="122.4" lengthAdjust="spacingAndGlyphs">Georges Band 1</text>
<text x="211.5" y="181.5" font-size="15.8" fill="#601b8d" textLength="130.5" lengthAdjust="spacingAndGlyphs">Price likes to ride</text>
<text x="252.7" y="200" font-size="15.8" fill="#601b8d" textLength="47.9" lengthAdjust="spacingAndGlyphs">bands</text>
<text x="270.2" y="90.5" font-size="24" fill="#f8434a" textLength="72.9" lengthAdjust="spacingAndGlyphs">23 PIP</text>
<text x="257.7" y="119.5" font-size="24" fill="#f8434a" textLength="99.5" lengthAdjust="spacingAndGlyphs">CANDLE</text>
<text x="217.5" y="298.8" font-size="24" fill="#f8434a" textLength="71.2" lengthAdjust="spacingAndGlyphs">16 Pip</text>
<text x="212.7" y="327.5" font-size="24" fill="#f8434a" textLength="80.8" lengthAdjust="spacingAndGlyphs">Candle</text>
<text x="670" y="92.4" font-size="24" fill="#f8434a" textLength="69.3" lengthAdjust="spacingAndGlyphs">11 pip</text>
<text x="665.3" y="120.4" font-size="24" fill="#f8434a" textLength="79.7" lengthAdjust="spacingAndGlyphs">Candle</text>
<text x="627" y="20.6" font-size="16" fill="#000" textLength="122.9" lengthAdjust="spacingAndGlyphs">The Target trade</text>
<text x="604" y="40.3" font-size="16" fill="#000" textLength="165.9" lengthAdjust="spacingAndGlyphs">actually missed target</text>
<text x="652.4" y="59" font-size="16" fill="#000" textLength="69" lengthAdjust="spacingAndGlyphs">by 2 pips</text>
<text x="468.2" y="555" font-size="18" fill="#000" textLength="118.5" lengthAdjust="spacingAndGlyphs">To Limit Price</text>
<text x="316.8" y="576" font-size="18" fill="#000" textLength="418.1" lengthAdjust="spacingAndGlyphs">Speed increases to create wide ranging candles</text>
<text x="441.5" y="596" font-size="18" fill="#000" textLength="170" lengthAdjust="spacingAndGlyphs">full of gaps&#160;&#160;(space)</text>
<text x="410.7" y="638.4" font-size="18" fill="#4062fa" textLength="231" lengthAdjust="spacingAndGlyphs">WHO CONTROLS SPEED ?</text>
</g>
</svg>
</body></html>
